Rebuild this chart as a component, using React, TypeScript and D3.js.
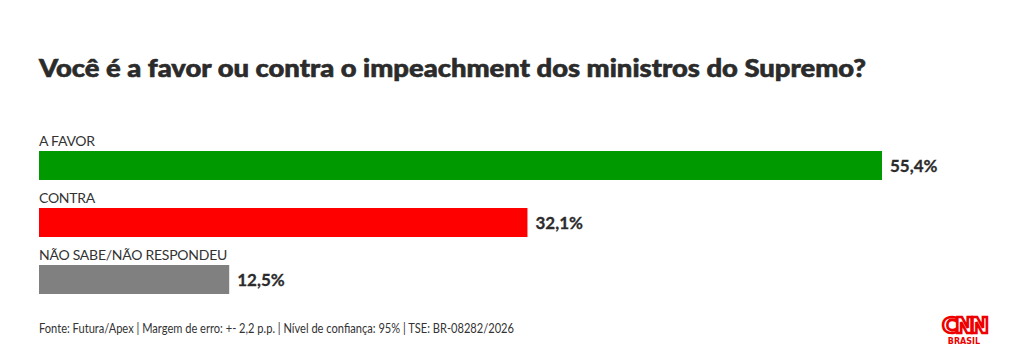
import React from "react";
import * as d3 from "d3";

const categories = ["A FAVOR", "CONTRA", "NÃO SABE/NÃO RESPONDEU"];
const values = [55.4, 32.1, 12.5];
const colors = ["#009900", "#ff0000", "#808080"];
const title = "Você é a favor ou contra o impeachment dos ministros do Supremo?";
const footer = "Fonte: Futura/Apex | Margem de erro: +- 2,2 p.p. | Nível de confiança: 95% | TSE: BR-08282/2026";

const W = 1020;
const H = 356;
const FONT = "Lato, 'Noto Sans', sans-serif";

export default function App() {
  const x = d3.scaleLinear().domain([0, 55.4]).range([39, 882]);
  const y = d3.scaleBand<string>().domain(categories).range([123, 294]).paddingInner(0).paddingOuter(0);
  const barH = 29;
  const fmt = (v: number) => v.toFixed(1).replace(".", ",") + "%";
  return (
    <svg width={W} height={H} style={{ position: "absolute", left: 0, top: 0, background: "#fff" }}>
      <rect width={W} height={H} fill="#fff" />
      <text x={39} y={77} fontFamily={FONT} fontWeight={900} fontSize={24} fill="#2b2b2b" stroke="#2b2b2b" strokeWidth={0.6} textLength={827} lengthAdjust="spacingAndGlyphs">
        {title}
      </text>
      {categories.map((c, i) => {
        const top = (y(c) as number) + y.bandwidth() - barH;
        return (
          <g key={c}>
            <text x={39} y={top - 5} fontFamily={FONT} fontSize={14} fill="#333" letterSpacing={-0.25}>{c}</text>
            <rect x={x(0)} y={top} width={x(values[i]) - x(0)} height={barH} fill={colors[i]} />
            <text x={x(values[i]) + 8} y={top + barH / 2 + 6} fontFamily={FONT} fontWeight={700} fontSize={17} fill="#2b2b2b" stroke="#2b2b2b" strokeWidth={0.3}>
              {fmt(values[i])}
            </text>
          </g>
        );
      })}
      <text x={39} y={333} fontFamily={FONT} fontSize={12.5} fill="#333" textLength={475} lengthAdjust="spacingAndGlyphs">
        {footer}
      </text>
      <text x={964} y={333} textAnchor="middle" fontFamily="'DejaVu Sans', sans-serif" fontWeight={700} fontSize={22} fill="#fff" stroke="#e00" strokeWidth={2.6} letterSpacing={-3} textLength={44} lengthAdjust="spacingAndGlyphs">
        CNN
      </text>
      <text x={964} y={344} textAnchor="middle" fontFamily="'DejaVu Sans', sans-serif" fontWeight={700} fontSize={8} fill="#e00">
        BRASIL
      </text>
    </svg>
  );
}
